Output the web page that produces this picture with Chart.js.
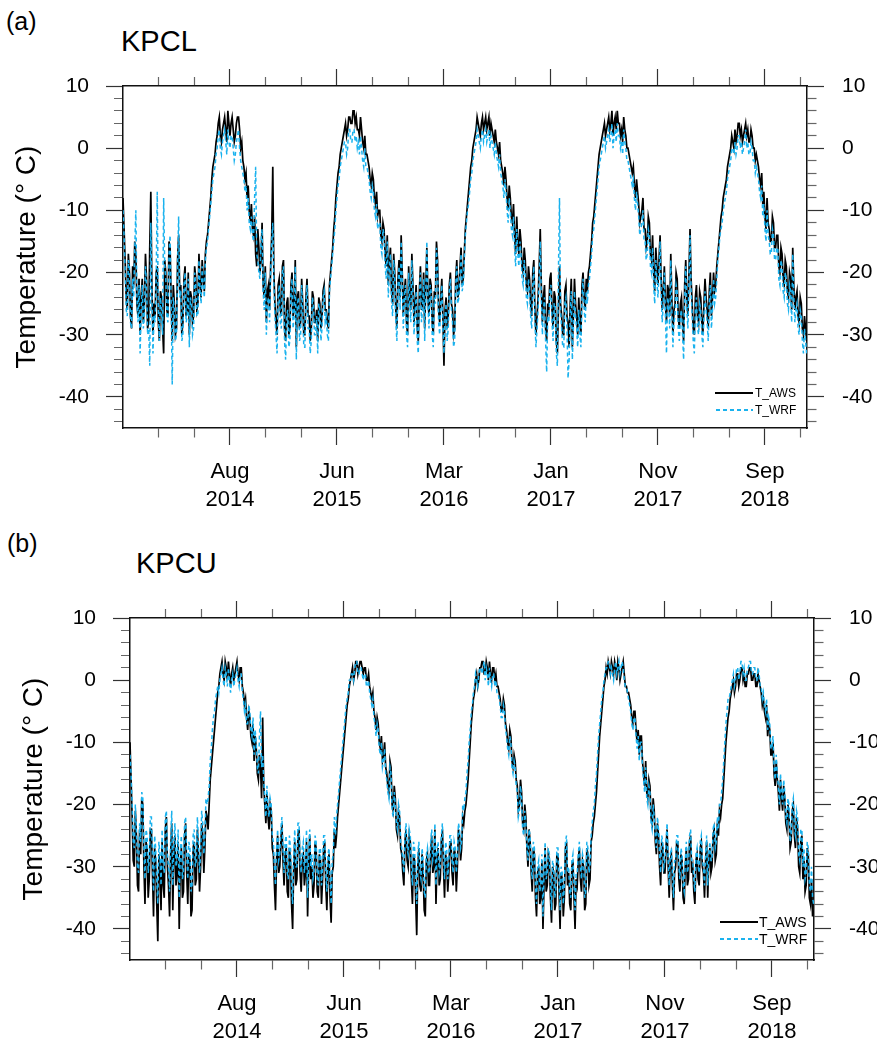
<!DOCTYPE html>
<html>
<head>
<meta charset="utf-8">
<script src="https://cdn.jsdelivr.net/npm/chart.js@4"></script>
<style>
  body { margin: 0; width: 877px; height: 1040px; overflow: hidden; background: #fff; position: relative;
         font-family: "Liberation Sans", Arial, sans-serif; color: #000; }
  .abs { position: absolute; white-space: nowrap; }
  .tag { font-size: 25px; line-height: 28px; }
  .station { font-size: 29px; line-height: 29px; }
  .lg { line-height: 14px; }
  .swatch { position: absolute; height: 2px; }
  .aws { background: #000; }
  .wrf { background: repeating-linear-gradient(90deg, #1ab2ee 0 4px, transparent 4px 7px); }
  canvas { position: absolute; }
</style>
</head>
<body>

<div class="abs tag" style="left:6px;top:7px">(a)</div>
<div class="abs station" style="left:121px;top:27px">KPCL</div>
<canvas id="chartA" width="877" height="520" style="left:0;top:0"></canvas>
<div class="swatch aws" style="left:715px;top:392px;width:38px"></div>
<div class="abs lg" style="left:755px;top:386px;font-size:12px">T_AWS</div>
<div class="swatch wrf" style="left:716px;top:409px;width:37px"></div>
<div class="abs lg" style="left:755px;top:403px;font-size:12px">T_WRF</div>

<div class="abs tag" style="left:7px;top:529px">(b)</div>
<div class="abs station" style="left:136px;top:549px">KPCU</div>
<canvas id="chartB" width="870" height="520" style="left:7px;top:532px"></canvas>
<div class="swatch aws" style="left:720px;top:921px;width:38px"></div>
<div class="abs lg" style="left:759px;top:915px;font-size:14px">T_AWS</div>
<div class="swatch wrf" style="left:720px;top:938px;width:38px"></div>
<div class="abs lg" style="left:759px;top:932px;font-size:14px">T_WRF</div>

<script>
// one value every 3 days, starting autumn 2013
var STEP_DAYS = 3;

var dayTicks = [100, 200, 300, 400, 500, 600, 700, 800, 900, 1000, 1100, 1200, 1300, 1400, 1500, 1600, 1700, 1800, 1900];
var majorDays = [300, 600, 900, 1200, 1500, 1800];
var monthLabels = ["Aug", "Jun", "Mar", "Jan", "Nov", "Sep"];
var yearLabels = ["2014", "2015", "2016", "2017", "2017", "2018"];
var tempLabels = [-40, -30, -20, -10, 0, 10];

var kpclAWS = [
  -8,-13,-18,-24,-26,-17,-20,-27,-29,-19,-22,-15,-17,-25,-27,-21,-30,-24,-21,-28,
  -25,-17,-21,-29,-28,-16,-7,-22,-30,-25,-27,-20,-19,-28,-31,-23,-24,-29,-33,-18,
  -20,-26,-27,-15,-16,-24,-31,-22,-25,-30,-29,-18,-14,-23,-22,-30,-28,-21,-19,-27,
  -26,-20,-30,-23,-24,-28,-27,-19,-21,-26,-25,-17,-22,-24,-18,-21,-23,-17,-15,-14,
  -12,-10,-8,-5,-3,-2,-1,1,2,4,5,2,1,3,4,5,3,1,6,4,
  2,4,5,3,1,2,4,5,5,3,0,1,-2,-3,-5,-4,-8,-6,-10,-12,
  -9,-13,-14,-11,-17,-19,-13,-16,-20,-18,-12,-22,-24,-19,-28,-23,-22,-26,-19,-14,
  -3,-20,-25,-28,-30,-22,-21,-26,-27,-19,-18,-29,-31,-25,-24,-30,-29,-22,-20,-27,
  -26,-18,-32,-24,-23,-29,-28,-21,-25,-30,-30,-24,-21,-27,-27,-31,-29,-23,-24,-28,
  -28,-26,-31,-24,-25,-29,-27,-23,-22,-26,-26,-28,-29,-22,-20,-18,-16,-13,-11,-8,
  -6,-4,-3,-1,0,1,2,3,4,2,3,5,5,4,4,6,6,4,5,3,
  3,2,5,3,1,0,2,-1,-1,-2,-3,-5,-6,-4,-5,-8,-9,-7,-11,-10,
  -10,-14,-15,-12,-13,-17,-19,-14,-22,-18,-16,-23,-25,-17,-20,-26,-29,-21,-18,-24,
  -14,-20,-27,-23,-21,-28,-30,-19,-24,-26,-17,-22,-28,-25,-22,-29,-31,-23,-19,-26,
  -25,-20,-29,-22,-16,-24,-27,-21,-22,-28,-30,-23,-24,-15,-18,-26,-28,-24,-21,-27,
  -35,-26,-24,-29,-27,-22,-20,-25,-26,-30,-29,-21,-18,-24,-23,-19,-16,-22,-21,-17,
  -13,-11,-9,-7,-5,-3,-2,0,1,2,3,5,4,3,2,4,5,3,4,5,
  3,4,5,2,4,3,2,1,3,1,0,-1,1,-2,-3,-4,-6,-3,-5,-8,
  -10,-6,-8,-11,-12,-9,-14,-17,-11,-15,-17,-13,-15,-19,-20,-16,-18,-22,-23,-19,
  -21,-25,-27,-20,-18,-26,-30,-27,-24,-19,-13,-22,-28,-24,-22,-29,-31,-25,-26,-21,
  -20,-26,-29,-23,-24,-31,-33,-26,-19,-25,-27,-30,-30,-23,-22,-27,-28,-32,-25,-21,
  -32,-27,-21,-25,-27,-30,-24,-28,-30,-22,-20,-24,-26,-21,-23,-20,-19,-17,-15,-12,
  -11,-9,-7,-5,-3,-1,0,1,2,3,4,2,3,4,5,3,4,6,2,4,
  5,3,6,4,4,2,3,1,5,3,2,0,0,-1,-2,-3,-4,-3,-6,-8,
  -5,-7,-9,-12,-11,-10,-8,-13,-13,-16,-15,-11,-12,-17,-18,-14,-20,-23,-16,-19,
  -22,-18,-14,-21,-26,-23,-19,-25,-28,-22,-23,-27,-17,-24,-30,-26,-25,-20,-21,-27,
  -29,-25,-24,-28,-31,-22,-18,-24,-27,-20,-13,-21,-25,-29,-30,-24,-22,-27,-28,-23,
  -24,-28,-30,-25,-21,-24,-26,-29,-23,-20,-27,-24,-20,-23,-22,-19,-17,-15,-13,-11,
  -10,-8,-7,-6,-5,-3,-2,-1,0,2,1,0,3,1,2,4,4,2,3,1,
  2,3,4,2,3,1,1,3,2,0,0,-2,-1,-2,-3,-5,-6,-4,-9,-7,
  -11,-13,-8,-12,-13,-15,-15,-11,-12,-16,-16,-14,-14,-19,-20,-16,-17,-21,-22,-18,
  -19,-23,-24,-20,-21,-26,-16,-22,-26,-24,-23,-27,-28,-24,-25,-29,-30,-27,-29,-31
];

var kpclWRF = [
  -10,-14,-20,-26,-27,-18,-19,-28,-29,-21,-24,-16,-10,-24,-28,-22,-33,-26,-22,-29,
  -27,-19,-22,-30,-29,-35,-12,-23,-33,-27,-28,-21,-7,-26,-31,-24,-26,-30,-8,-19,
  -21,-27,-28,-17,-14,-25,-38,-24,-26,-31,-30,-19,-11,-24,-23,-31,-30,-22,-20,-28,
  -27,-21,-32,-24,-25,-30,-29,-20,-22,-27,-27,-18,-23,-25,-19,-22,-24,-18,-16,-15,
  -13,-11,-9,-7,-5,-4,-3,-1,0,2,3,0,-1,1,2,3,1,-1,3,1,
  0,2,2,0,-2,-1,1,2,3,0,-2,-3,-4,-5,-7,-6,-10,-8,-12,-13,
  -11,-14,-15,-8,-3,-17,-18,-20,-21,-15,-13,-23,-26,-20,-30,-25,-24,-28,-20,-15,
  -12,-22,-27,-30,-33,-24,-22,-28,-29,-20,-19,-31,-34,-27,-26,-32,-31,-23,-21,-29,
  -27,-19,-34,-25,-24,-31,-30,-22,-26,-32,-32,-25,-22,-29,-29,-33,-31,-24,-25,-30,
  -30,-27,-33,-25,-26,-31,-29,-24,-23,-28,-27,-30,-31,-23,-21,-19,-17,-15,-13,-10,
  -8,-6,-5,-3,-2,-1,0,1,1,-1,0,3,3,1,1,3,3,1,2,0,
  1,-1,2,0,-2,-3,0,-3,-3,-4,-5,-7,-8,-6,-7,-10,-11,-9,-13,-12,
  -12,-16,-17,-13,-14,-19,-21,-15,-24,-19,-17,-25,-27,-18,-21,-28,-31,-22,-19,-26,
  -15,-21,-29,-24,-22,-30,-32,-20,-25,-28,-18,-23,-30,-27,-23,-31,-33,-24,-20,-28,
  -26,-21,-31,-23,-15,-25,-29,-22,-23,-30,-32,-24,-25,-16,-19,-28,-30,-25,-22,-29,
  -33,-27,-25,-31,-29,-23,-21,-26,-28,-32,-31,-22,-19,-25,-24,-20,-17,-23,-22,-18,
  -14,-12,-10,-9,-7,-5,-4,-2,-1,0,1,3,2,1,0,2,3,1,2,3,
  1,2,3,0,2,1,0,-1,1,-1,-2,-3,-1,-4,-5,-6,-8,-5,-7,-10,
  -12,-8,-10,-13,-14,-11,-16,-19,-13,-17,-19,-15,-17,-21,-22,-18,-20,-24,-25,-21,
  -23,-27,-29,-22,-19,-28,-32,-29,-26,-21,-15,-24,-30,-26,-24,-31,-36,-27,-28,-23,
  -22,-28,-31,-25,-25,-33,-35,-20,-8,-26,-29,-32,-32,-25,-24,-29,-37,-34,-27,-23,
  -34,-29,-23,-27,-29,-32,-26,-30,-32,-24,-21,-26,-28,-23,-25,-22,-21,-19,-17,-14,
  -13,-11,-9,-7,-5,-3,-2,-1,0,1,2,0,1,2,3,1,2,4,0,2,
  3,1,4,2,2,0,1,-1,3,1,0,-2,-2,-3,-4,-5,-6,-5,-8,-10,
  -7,-9,-11,-14,-13,-12,-10,-15,-15,-18,-17,-13,-14,-19,-20,-16,-22,-25,-18,-21,
  -24,-20,-15,-23,-28,-25,-20,-27,-33,-24,-25,-29,-18,-26,-32,-28,-27,-22,-23,-29,
  -31,-27,-26,-30,-34,-24,-19,-26,-29,-22,-14,-23,-27,-31,-33,-26,-24,-29,-30,-25,
  -26,-30,-32,-27,-23,-26,-28,-31,-25,-22,-29,-26,-21,-25,-24,-21,-18,-16,-14,-13,
  -12,-10,-9,-8,-7,-5,-4,-3,-2,0,0,-1,1,-1,0,2,2,0,1,-1,
  0,1,3,0,1,-1,-1,1,0,-2,-2,-4,-3,-4,-5,-7,-8,-6,-11,-9,
  -13,-15,-10,-14,-15,-17,-17,-13,-14,-18,-18,-16,-16,-21,-22,-18,-19,-23,-24,-20,
  -21,-25,-26,-22,-23,-28,-17,-24,-28,-26,-25,-29,-30,-26,-27,-31,-33,-29,-31,-33
];

var kpcuAWS = [
  -10,-16,-22,-29,-30,-21,-25,-33,-34,-24,-28,-19,-20,-30,-36,-26,-27,-35,-32,-24,
  -24,-31,-38,-27,-29,-36,-42,-28,-30,-37,-26,-33,-35,-24,-22,-30,-33,-38,-28,-23,
  -37,-28,-25,-33,-31,-26,-40,-30,-27,-35,-34,-25,-23,-31,-36,-28,-29,-38,-37,-27,
  -26,-33,-32,-24,-28,-34,-30,-23,-25,-31,-27,-21,-22,-24,-20,-16,-14,-12,-10,-8,
  -6,-4,-2,-1,1,2,3,1,0,3,2,0,3,1,-1,1,2,0,1,2,
  3,1,0,2,2,-1,-2,-4,-3,-6,-8,-5,-6,-9,-10,-7,-13,-9,-11,-15,
  -16,-12,-14,-19,-6,-17,-20,-23,-18,-22,-24,-20,-21,-27,-28,-33,-37,-29,-25,-31,
  -30,-26,-23,-29,-33,-28,-27,-34,-35,-27,-29,-36,-40,-30,-26,-33,-32,-25,-24,-31,
  -34,-29,-28,-33,-31,-26,-38,-30,-25,-32,-30,-35,-33,-26,-27,-34,-35,-28,-29,-36,
  -32,-27,-26,-33,-37,-30,-28,-35,-39,-31,-30,-24,-27,-25,-22,-20,-18,-16,-14,-12,
  -10,-8,-6,-4,-3,-1,0,1,2,0,1,3,3,1,2,3,3,2,1,2,
  2,0,0,1,-1,-2,-3,-2,-5,-6,-8,-6,-7,-10,-11,-9,-13,-12,-10,-14,
  -15,-17,-18,-13,-14,-20,-21,-17,-19,-24,-25,-21,-22,-27,-28,-31,-33,-26,-24,-29,
  -30,-25,-26,-32,-36,-28,-29,-35,-41,-30,-27,-33,-34,-28,-31,-37,-38,-29,-28,-33,
  -33,-28,-25,-31,-30,-24,-36,-29,-27,-33,-32,-26,-24,-30,-35,-28,-29,-34,-31,-26,
  -26,-31,-33,-27,-28,-34,-30,-24,-25,-29,-27,-22,-23,-21,-20,-18,-16,-13,-10,-7,
  -5,-3,-2,0,1,-1,0,2,2,3,3,1,1,3,2,0,3,1,0,2,
  2,0,1,-1,-1,-2,-3,-5,-5,-3,-4,-7,-8,-10,-11,-8,-9,-13,-14,-12,
  -13,-16,-17,-21,-20,-16,-18,-23,-24,-20,-22,-27,-30,-24,-26,-31,-34,-27,-28,-35,
  -38,-31,-30,-36,-35,-29,-40,-33,-27,-34,-33,-28,-29,-35,-39,-30,-31,-37,-36,-28,
  -28,-34,-40,-31,-32,-38,-35,-27,-26,-33,-31,-36,-37,-30,-29,-35,-40,-32,-33,-29,
  -27,-32,-34,-29,-30,-37,-36,-27,-28,-33,-32,-26,-25,-23,-22,-20,-18,-15,-12,-9,
  -7,-5,-3,-1,0,2,1,3,2,1,3,2,1,3,2,0,3,2,0,1,
  2,3,1,-1,-1,-2,-2,-3,-4,-6,-7,-5,-5,-8,-10,-8,-12,-9,-9,-13,
  -15,-17,-13,-18,-19,-16,-17,-22,-23,-19,-21,-26,-28,-23,-25,-30,-33,-26,-27,-31,
  -31,-27,-24,-30,-35,-29,-28,-33,-37,-31,-30,-26,-26,-32,-34,-28,-29,-35,-36,-30,
  -27,-33,-32,-26,-25,-31,-30,-34,-36,-29,-28,-32,-33,-27,-26,-30,-31,-35,-29,-26,
  -35,-29,-27,-31,-30,-25,-24,-29,-28,-23,-25,-21,-22,-20,-19,-16,-13,-10,-8,-6,
  -5,-3,-2,-1,0,-2,-1,1,1,-1,0,2,2,0,1,-1,-1,1,1,2,
  2,0,0,1,1,-1,-1,1,0,-1,-2,-4,-3,-5,-6,-4,-9,-7,-8,-12,
  -12,-10,-15,-17,-13,-16,-18,-21,-16,-19,-21,-17,-19,-23,-24,-20,-22,-27,-26,-21,
  -20,-25,-27,-22,-24,-30,-31,-26,-25,-32,-29,-34,-33,-27,-28,-35,-36,-32,-38,-37
];

var kpcuWRF = [
  -12,-15,-20,-26,-27,-20,-24,-30,-31,-23,-26,-18,-19,-27,-32,-24,-25,-31,-29,-22,
  -22,-28,-34,-25,-27,-32,-36,-26,-28,-33,-24,-30,-31,-22,-21,-28,-30,-34,-26,-21,
  -33,-26,-23,-30,-29,-24,-35,-28,-25,-32,-31,-23,-22,-28,-32,-26,-27,-34,-33,-25,
  -24,-30,-29,-22,-26,-31,-28,-21,-23,-28,-25,-19,-20,-19,-17,-13,-11,-8,-6,-5,
  -3,-2,-1,-2,0,1,2,0,-1,2,1,-1,2,0,-2,0,1,-1,0,1,
  2,0,-1,1,1,-2,-3,-5,-4,-7,-7,-4,-5,-8,-9,-6,-12,-8,-10,-14,
  -15,-9,-5,-14,-12,-16,-19,-22,-17,-21,-22,-19,-20,-25,-26,-30,-33,-27,-24,-29,
  -28,-24,-22,-27,-31,-26,-25,-31,-32,-25,-27,-33,-36,-28,-24,-30,-30,-23,-23,-29,
  -31,-27,-26,-31,-29,-24,-35,-28,-24,-30,-28,-32,-31,-25,-26,-32,-33,-27,-27,-33,
  -30,-25,-25,-31,-34,-28,-27,-32,-36,-29,-28,-22,-25,-22,-20,-18,-16,-14,-12,-10,
  -8,-6,-4,-3,-2,0,0,1,1,0,2,3,3,1,1,2,2,1,0,1,
  1,-1,-1,0,-2,-3,-4,-3,-6,-7,-9,-7,-8,-11,-12,-10,-14,-13,-11,-15,
  -16,-18,-19,-14,-15,-21,-22,-18,-20,-23,-24,-20,-21,-26,-27,-29,-31,-25,-23,-27,
  -28,-24,-25,-30,-33,-26,-27,-32,-36,-28,-26,-31,-32,-27,-29,-34,-35,-28,-27,-31,
  -31,-26,-24,-29,-28,-23,-33,-27,-26,-31,-30,-25,-23,-28,-32,-26,-27,-32,-29,-25,
  -25,-29,-31,-26,-27,-31,-28,-23,-24,-27,-26,-20,-21,-19,-18,-15,-13,-10,-8,-5,
  -4,-2,-1,1,0,-1,1,2,2,1,2,3,0,2,1,-1,2,0,-1,1,
  1,-1,0,-2,-2,-3,-4,-6,-6,-4,-5,-8,-9,-11,-12,-9,-10,-14,-15,-13,
  -14,-17,-18,-22,-21,-17,-19,-24,-25,-21,-23,-27,-29,-24,-25,-30,-32,-26,-27,-33,
  -36,-30,-29,-34,-33,-28,-38,-31,-26,-32,-31,-27,-28,-33,-37,-29,-30,-35,-34,-27,
  -27,-32,-37,-30,-31,-36,-33,-26,-25,-31,-30,-34,-35,-29,-28,-33,-37,-31,-31,-28,
  -26,-30,-32,-28,-29,-35,-34,-26,-27,-31,-30,-25,-23,-21,-20,-17,-15,-12,-9,-7,
  -5,-3,-2,0,1,2,2,3,3,1,2,1,0,2,3,1,2,3,1,2,
  3,2,0,-1,-1,-2,-3,-4,-5,-7,-8,-6,-6,-9,-11,-9,-13,-10,-10,-14,
  -16,-18,-14,-19,-20,-17,-18,-23,-24,-20,-22,-25,-27,-22,-24,-28,-31,-25,-26,-30,
  -29,-26,-23,-29,-33,-28,-27,-31,-35,-29,-29,-25,-25,-30,-32,-27,-28,-33,-34,-29,
  -26,-31,-30,-25,-24,-29,-29,-32,-34,-28,-27,-30,-31,-26,-25,-29,-30,-33,-28,-25,
  -33,-28,-26,-29,-29,-24,-23,-27,-26,-22,-24,-20,-20,-18,-16,-13,-10,-7,-5,-3,
  -3,-2,-1,0,1,-1,0,2,2,0,1,3,3,1,2,0,0,2,2,3,
  3,1,1,2,2,0,0,2,1,-1,-1,-3,-2,-4,-5,-3,-8,-6,-7,-11,
  -11,-9,-14,-16,-12,-15,-17,-20,-15,-18,-20,-16,-18,-22,-23,-19,-20,-26,-25,-20,
  -19,-24,-25,-21,-22,-28,-29,-24,-24,-30,-27,-32,-31,-26,-27,-33,-34,-30,-35,-36
];

var FONT = "'Liberation Sans', Arial, sans-serif";

function toPoints(values) {
  return values.map(function (v, i) { return { x: i * STEP_DAYS, y: v }; });
}

function yTickValues() {
  var out = [];
  for (var v = -44; v <= 10; v += 2) out.push(v);
  return out;
}

// long ticks on the labelled values, short ones between (done with a dash pattern)
function tickDash(isMajor, fromOutside) {
  return function (ctx) {
    if (!ctx.tick) return [];
    if (isMajor(ctx.tick.value)) return [];
    return fromOutside ? [0, 8, 30] : [9, 30];
  };
}
function tickColor(isMajor) {
  return function (ctx) {
    return ctx.tick && isMajor(ctx.tick.value) ? "#333" : "#666";
  };
}
function isMajorX(v) { return majorDays.indexOf(v) >= 0; }
function isMajorY(v) { return tempLabels.indexOf(v) >= 0; }

function xAxis(position, showLabels, height) {
  return {
    type: "linear",
    position: position,
    min: 0,
    max: 1918,
    afterBuildTicks: function (scale) {
      scale.ticks = dayTicks.map(function (d) { return { value: d }; });
    },
    afterFit: function (scale) { scale.height = height; },
    border: { display: true, color: "#111", width: 1.5 },
    grid: {
      drawOnChartArea: false,
      drawTicks: true,
      tickLength: 17,
      tickWidth: 1.2,
      tickColor: tickColor(isMajorX),
      tickBorderDash: tickDash(isMajorX, position === "top")
    },
    ticks: {
      display: showLabels,
      autoSkip: false,
      maxRotation: 0,
      minRotation: 0,
      padding: 13,
      color: "#000",
      font: { family: FONT, size: 22, lineHeight: 1.27 },
      callback: function (v) {
        var k = majorDays.indexOf(v);
        return k >= 0 ? [monthLabels[k], yearLabels[k]] : "";
      }
    }
  };
}

function yAxis(position, width, withTitle) {
  return {
    type: "linear",
    position: position,
    min: -45,
    max: 10,
    afterBuildTicks: function (scale) {
      scale.ticks = yTickValues().map(function (v) { return { value: v }; });
    },
    afterFit: function (scale) { scale.width = width; },
    border: { display: true, color: "#111", width: 1.5 },
    grid: {
      drawOnChartArea: false,
      drawTicks: true,
      tickLength: 17,
      tickWidth: 1.2,
      tickColor: tickColor(isMajorY),
      tickBorderDash: tickDash(isMajorY, position === "left")
    },
    title: {
      display: withTitle,
      text: "Temperature (\u00B0 C)",
      color: "#000",
      font: { family: FONT, size: 28 },
      padding: { top: 10, bottom: 0 }
    },
    ticks: {
      autoSkip: false,
      padding: position === "left" ? 17 : 18,
      color: "#000",
      font: { family: FONT, size: 21 },
      callback: function (v) { return isMajorY(v) ? String(v) : ""; }
    }
  };
}

function renderPanel(canvasId, aws, wrf, rightWidth) {
  var ctx = document.getElementById(canvasId).getContext("2d");
  new Chart(ctx, {
    type: "line",
    data: {
      datasets: [
        {
          label: "T_WRF",
          data: toPoints(wrf),
          borderColor: "#1ab2ee",
          borderWidth: 1.5,
          borderDash: [4, 3],
          pointRadius: 0,
          tension: 0,
          order: 0
        },
        {
          label: "T_AWS",
          data: toPoints(aws),
          borderColor: "#000",
          borderWidth: 1.7,
          pointRadius: 0,
          tension: 0,
          order: 1
        }
      ]
    },
    options: {
      responsive: false,
      animation: false,
      events: [],
      layout: { padding: 0, autoPadding: false },
      plugins: { legend: { display: false }, tooltip: { enabled: false } },
      scales: {
        x: xAxis("bottom", true, 92),
        xTop: xAxis("top", false, 86),
        y: yAxis("left", 123, true),
        yRight: yAxis("right", rightWidth, false)
      }
    }
  });
}

renderPanel("chartA", kpclAWS, kpclWRF, 70);
renderPanel("chartB", kpcuAWS, kpcuWRF, 63);
</script>
</body>
</html>
